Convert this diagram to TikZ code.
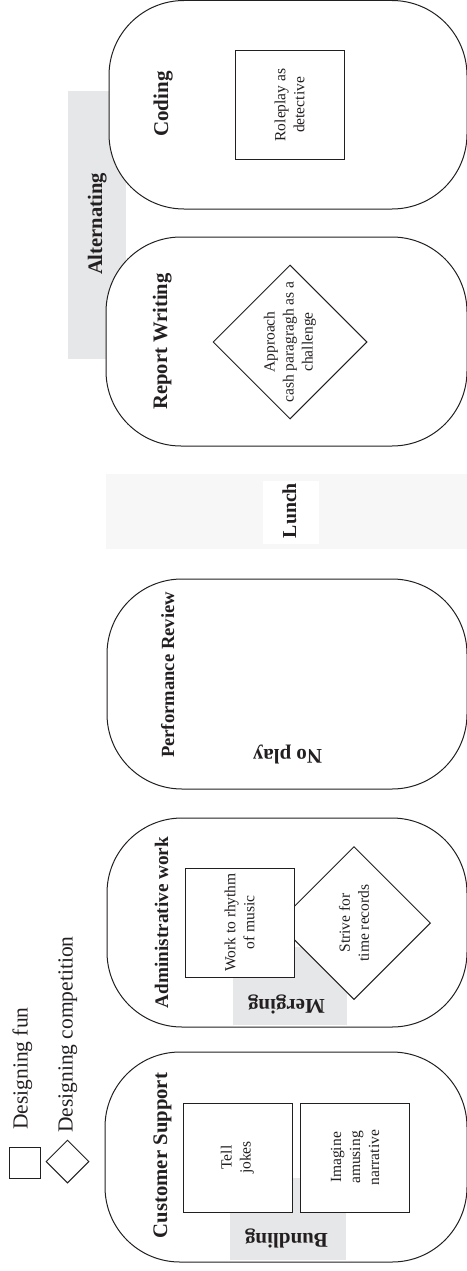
\documentclass[tikz,border=0pt]{standalone}
\usepackage{fontspec}
\setmainfont{Liberation Serif}
\usetikzlibrary{shapes.geometric}
\definecolor{ink}{HTML}{231F20}
\definecolor{bandgray}{HTML}{E6E7E8}
\definecolor{lunchgray}{HTML}{F7F7F7}
\newcommand{\mysmall}{\fontsize{15.5}{19}\selectfont}
\newcommand{\mylegend}{\fontsize{21.5}{26}\selectfont}
\newcommand{\mybold}[1]{\fontsize{#1}{#1}\selectfont\bfseries}
\begin{document}
\begin{tikzpicture}[x=1pt,y=-1pt,
  stadium/.style={draw=ink,line width=1pt,fill=white,rounded corners=75pt,inner sep=0pt},
  band/.style={fill=#1,draw=none,inner sep=0pt},
  funbox/.style={draw=ink,line width=1pt,fill=white,minimum width=109pt,minimum height=109pt,inner sep=0pt,rotate=90,align=center,font=\mysmall,text=ink},
  compdia/.style={draw=ink,line width=1pt,fill=white,diamond,minimum width=#1,minimum height=#1,inner sep=0pt},
  diatext/.style={rotate=90,align=center,font=\mysmall,text=ink,inner sep=0pt},
  uplabel/.style={rotate=90,anchor=base,inner sep=0pt,text=ink,font=\mybold{#1}},
  flipped/.style={rotate=180,anchor=base,inner sep=0pt,text=ink,font=\mybold{#1}},
  legendtext/.style={rotate=90,anchor=base west,inner sep=0pt,text=ink,font=\mylegend}
]
\useasboundingbox (0,0) rectangle (466,1271);
% background bands
\node[band=bandgray,minimum width=58pt,minimum height=268pt] (altband) at (97,225) {};
% stadiums
\node[stadium,minimum width=358pt,minimum height=208.5pt] (coding) at (288,104.75) {};
\node[stadium,minimum width=361pt,minimum height=209pt] (report) at (286.5,341.5) {};
\node[stadium,minimum width=360pt,minimum height=210pt] (perf) at (287,684) {};
\node[stadium,minimum width=360pt,minimum height=209pt] (admin) at (287,922.5) {};
\node[stadium,minimum width=362pt,minimum height=210pt] (cs) at (286,1157) {};
% lunch band
\node[band=lunchgray,minimum width=361pt,minimum height=75pt] (lunchband) at (286.5,511.5) {};
\node[band=white,minimum width=56pt,minimum height=63pt] (lunchbox) at (291,512.5) {};
% merging / bundling bands
\node[band=bandgray,minimum width=114pt,minimum height=78pt] (mergeband) at (290,986) {};
\node[band=bandgray,minimum width=116pt,minimum height=82pt] (bundleband) at (288,1219) {};
% diamonds
\node[compdia=154pt] (approach) at (290,342) {};
\node[compdia=153pt] (strive) at (354,923) {};
% boxes
\node[funbox] (roleplay) at (289.5,105) {Roleplay as\\detective};
\node[funbox] (work) at (239.5,922.5) {Work to rhythm\\of music};
\node[funbox] (tell) at (237.5,1157.5) {Tell\\jokes};
\node[funbox] (imagine) at (355,1157.5) {Imagine\\amusing\\narrative};
% diamond texts
\node[diatext] (approachtxt) at (approach.center) {Approach\\cash paragragh as a\\challenge};
\node[diatext] (strivetxt) at (strive.center) {Strive for\\time records};
% stadium labels
\node[uplabel=21] (codinglbl) at (168,104) {Coding};
\node[uplabel=20.6] (reportlbl) at (167,341.5) {Report Writing};
\node[uplabel=18.6] (perflbl) at (174,675) {Performance Review};
\node[uplabel=19.2] (adminlbl) at (168,922.5) {Administrative work};
\node[uplabel=20.7] (cslbl) at (167,1155.5) {Customer Support};
% band labels
\node[uplabel=20.6] (altlbl) at (102,224) {Alternating};
\node[uplabel=19.8] (lunchlbl) at (296,510.5) {Lunch};
\node[flipped=20.9] (noplay) at (287.5,749.5) {No play};
\node[flipped=21] (merginglbl) at (286.5,999.5) {Merging};
\node[flipped=21] (bundlinglbl) at (286.5,1233.5) {Bundling};
% legend
\node[draw=ink,line width=1pt,minimum width=31pt,minimum height=31pt,inner sep=0pt] (legsq) at (24.5,1162.5) {};
\node[compdia=43pt] (legdia) at (67.5,1161.5) {};
\node[legendtext] (legfun) at (27.5,1130) {Designing fun};
\node[legendtext] (legcomp) at (72.5,1133) {Designing competition};
\end{tikzpicture}
\end{document}
